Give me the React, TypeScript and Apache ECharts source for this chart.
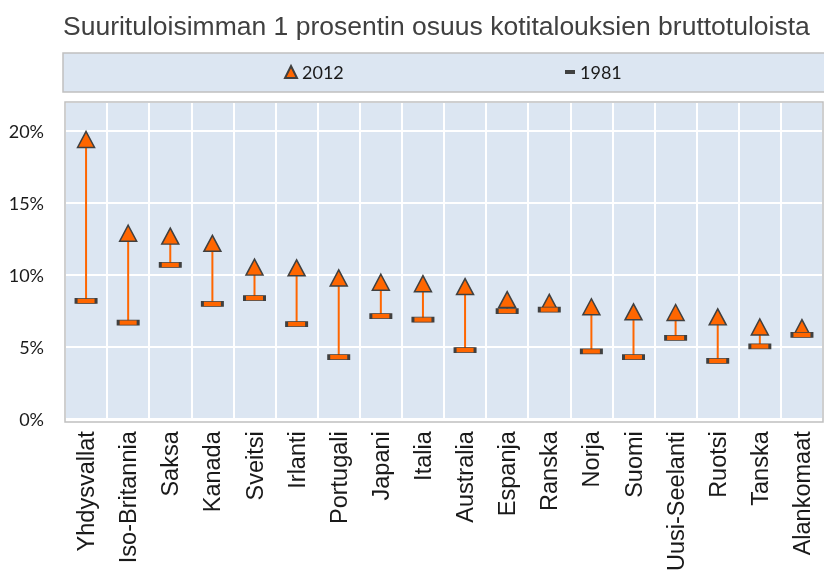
import React, { useEffect, useRef } from "react";
import * as echarts from "echarts";

const categories = [
  "Yhdysvallat", "Iso-Britannia", "Saksa", "Kanada", "Sveitsi", "Irlanti",
  "Portugali", "Japani", "Italia", "Australia", "Espanja", "Ranska",
  "Norja", "Suomi", "Uusi-Seelanti", "Ruotsi", "Tanska", "Alankomaat",
];
const values2012 = [19.4, 12.9, 12.7, 12.2, 10.55, 10.5, 9.8, 9.5, 9.4, 9.2, 8.3, 8.1, 7.8, 7.45, 7.4, 7.1, 6.4, 6.35];
const values1981 = [8.2, 6.7, 10.7, 8.0, 8.4, 6.6, 4.3, 7.15, 6.9, 4.8, 7.5, 7.6, 4.7, 4.3, 5.65, 4.05, 5.05, 5.85];
const yTickStep = 5;
const yMax = 22;
const titleText = "Suurituloisimman 1 prosentin osuus kotitalouksien bruttotuloista";

export default function App() {
  const ref = useRef<HTMLDivElement>(null);
  useEffect(() => {
    if (!ref.current) return;
    const chart = echarts.init(ref.current, null, { renderer: "svg" });
    const orange = "#ff6600";
    const edge = "#404040";
    chart.setOption({
      animation: false,
      title: {
        text: titleText,
        left: 63,
        top: 12,
        padding: 0,
        textStyle: { fontFamily: "Liberation Sans", fontSize: 26.5, fontWeight: "normal", color: "#404040" },
      },
      graphic: [
        {
          type: "rect",
          z: 0,
          shape: { x: 63, y: 53, width: 770, height: 39 },
          style: { fill: "#dce6f2", stroke: "#c0c0c0", lineWidth: 1.5 },
        },
        {
          type: "rect",
          z: 100,
          shape: { x: 65, y: 102, width: 758, height: 320 },
          style: { fill: "none", stroke: "#c0c0c0", lineWidth: 1.5 },
        },
      ],
      legend: [
        {
          left: 284,
          top: 63,
          padding: 0,
          itemWidth: 12,
          itemHeight: 12,
          data: [{ name: "2012", icon: "triangle" }],
          textStyle: { fontFamily: "Lato", fontSize: 18, color: "#1a1a1a" },
        },
        {
          left: 565,
          top: 63,
          padding: 0,
          itemWidth: 10,
          itemHeight: 4,
          data: [{ name: "1981", icon: "rect", itemStyle: { color: edge, borderWidth: 0 } }],
          textStyle: { fontFamily: "Lato", fontSize: 18, color: "#1a1a1a" },
        },
      ],
      grid: {
        left: 65,
        right: 1,
        top: 102,
        bottom: 152,
        show: true,
        backgroundColor: "#dce6f2",
        borderWidth: 0,
      },
      xAxis: {
        type: "category",
        data: categories,
        boundaryGap: true,
        axisTick: { show: false },
        axisLine: { show: false },
        splitLine: { show: true, interval: 0, lineStyle: { color: "#ffffff", width: 2 } },
        axisLabel: {
          rotate: 90,
          interval: 0,
          margin: 12,
          fontFamily: "Liberation Sans",
          fontSize: 23.5,
          color: "#1a1a1a",
        },
      },
      yAxis: {
        type: "value",
        min: 0,
        max: yMax,
        interval: yTickStep,
        axisLine: { show: false },
        axisTick: { show: false },
        splitLine: { show: true, lineStyle: { color: "#ffffff", width: 2 } },
        axisLabel: {
          margin: 21,
          fontFamily: "Lato",
          fontSize: 18,
          color: "#1a1a1a",
          formatter: (v: number) => (Math.round(v) % yTickStep === 0 ? Math.round(v) + "%" : ""),
        },
      },
      series: [
        {
          type: "custom",
          name: "yhteys",
          z: 1,
          data: categories.map((c, i) => [i, values1981[i], values2012[i]]),
          encode: { x: 0, y: [1, 2] },
          renderItem: (params: any, api: any) => {
            const i = api.value(0);
            const a = api.coord([i, api.value(1)]);
            const b = api.coord([i, api.value(2)]);
            return {
              type: "line",
              shape: { x1: a[0], y1: a[1], x2: b[0], y2: b[1] },
              style: { stroke: orange, lineWidth: 2 },
            };
          },
        },
        {
          type: "scatter",
          name: "2012",
          z: 2,
          symbol: "triangle",
          symbolSize: [17, 16],
          itemStyle: { color: orange, borderColor: edge, borderWidth: 1.5, opacity: 1 },
          data: values2012,
        },
        {
          type: "scatter",
          name: "1981",
          z: 3,
          symbol: "rect",
          symbolSize: [20, 5],
          itemStyle: { color: orange, borderColor: edge, borderWidth: 1.5, opacity: 1 },
          data: values1981,
        },
      ],
    });
    return () => chart.dispose();
  }, []);
  return <div ref={ref} style={{ position: "fixed", left: 0, top: 0, width: 824, height: 574 }} />;
}
